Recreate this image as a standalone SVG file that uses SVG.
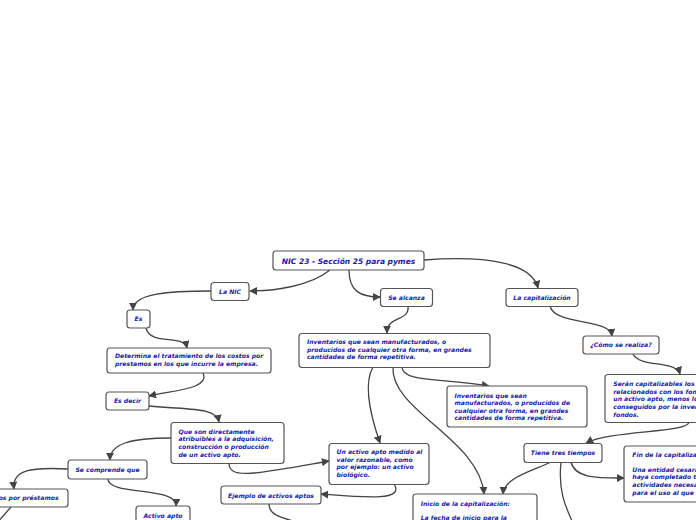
<svg xmlns="http://www.w3.org/2000/svg" width="696" height="520" viewBox="0 0 696 520">
<style>
.n rect{fill:#ffffff;stroke:#555555;stroke-width:1.2}
.n text{font-family:"DejaVu Sans","Verdana",sans-serif;font-weight:bold;font-style:italic;font-size:6.1px;fill:#1a1aa6}
.c{text-anchor:middle}
.root text{font-size:7.5px}
#connectors path{fill:none;stroke:#444444;stroke-width:1.3;marker-end:url(#ah)}
#connectors path.na{marker-end:none}
</style>
<defs>
<marker id="ah" viewBox="0 0 10 10" refX="9" refY="5" markerWidth="8" markerHeight="8" markerUnits="userSpaceOnUse" orient="auto">
<path d="M0,0 L10,5 L0,10 z" fill="#444444"/>
</marker>
</defs>
<rect width="696" height="520" fill="#ffffff"/>
<g id="connectors">
<path d="M330,270 C310,286 275,291 250,291"/>
<path d="M349,270 C349,291 360,297 380,297"/>
<path d="M424,260 C490,255 532,264 538,288"/>
<path d="M211,291 C170,291 133,293 133,310"/>
<path d="M146,328 C150,346 184,334 187,348"/>
<path d="M203,373 C210,389 175,390 149,396"/>
<path d="M149,406 C190,410 216,407 219,422"/>
<path d="M171,438 C130,438 110,444 110,460"/>
<path d="M68,469 C30,467 12,470 14,489"/>
<path d="M108,479 C108,496 177,486 176,506"/>
<path class="na" d="M11,507 L-3,523"/>
<path d="M229,463 C229,480 255,474 329,461"/>
<path d="M394,484 C406,502 360,497 321,494"/>
<path class="na" d="M269,504 C269,515 280,517 296,522"/>
<path d="M408,306 C410,322 387,315 387,333"/>
<path d="M373,367 C362,386 372,420 380,443"/>
<path d="M402,367 C402,382 440,378 489,386"/>
<path d="M393,367 C390,410 480,440 484,494"/>
<path d="M550,306 C555,326 610,318 612,336"/>
<path d="M633,354 C640,368 676,360 680,374"/>
<path d="M689,422 C689,433 610,430 586,443"/>
<path d="M551,462 C530,472 504,478 503,494"/>
<path d="M571,462 C575,479 600,478 624,478"/>
<path class="na" d="M561,462 C558,490 565,506 573,523"/>
</g>
<g id="root" class="n root"><rect x="273" y="251" width="151" height="19" rx="3"/><text class="c" x="348.5" y="263.8">NIC 23 - Sección 25 para pymes</text></g>
<g id="lanic" class="n"><rect x="211" y="282.5" width="38" height="18" rx="3"/><text class="c" x="230" y="293.8">La NIC</text></g>
<g id="es" class="n"><rect x="127" y="310" width="23" height="18" rx="3"/><text class="c" x="138.5" y="321.3">Es</text></g>
<g id="determina" class="n"><rect x="107" y="348" width="164" height="25" rx="3"/><text x="115" y="358"><tspan x="115" y="358">Determina el tratamiento de los costos por</tspan><tspan x="115" y="365.6">prestamos en los que incurre la empresa.</tspan></text></g>
<g id="sealcanza" class="n"><rect x="380.5" y="288.5" width="52" height="18" rx="3"/><text class="c" x="406.5" y="299.8">Se alcanza</text></g>
<g id="lacap" class="n"><rect x="506" y="288.5" width="72" height="18" rx="3"/><text class="c" x="542" y="299.8">La capitalización</text></g>
<g id="como" class="n"><rect x="583" y="336" width="76" height="18" rx="3"/><text class="c" x="621" y="347.3">¿Cómo se realiza?</text></g>
<g id="inv1" class="n"><rect x="299" y="333.5" width="191" height="34" rx="3"/><text><tspan x="307" y="344.2">Inventarios que sean manufacturados, o</tspan><tspan x="307" y="351.8">producidos de cualquier otra forma, en grandes</tspan><tspan x="307" y="359.4">cantidades de forma repetitiva.</tspan></text></g>
<g id="esdecir" class="n"><rect x="106" y="392" width="43" height="18" rx="3"/><text class="c" x="127.5" y="403.3">Es decir</text></g>
<g id="queson" class="n"><rect x="171" y="422.5" width="113" height="41" rx="3"/><text><tspan x="178.5" y="433.8">Que son directamente</tspan><tspan x="178.5" y="441.4">atribuibles a la adquisición,</tspan><tspan x="178.5" y="449">construcción o producción</tspan><tspan x="178.5" y="456.6">de un activo apto.</tspan></text></g>
<g id="secomprende" class="n"><rect x="68" y="460" width="79" height="19" rx="3"/><text class="c" x="107.5" y="471.8">Se comprende que</text></g>
<g id="costos" class="n"><rect x="-27" y="489" width="95" height="18" rx="3"/><text class="c" x="21" y="500.3">Costos por préstamos</text></g>
<g id="activoapto" class="n"><rect x="136" y="506" width="54" height="20" rx="3"/><text class="c" x="163" y="518">Activo apto</text></g>
<g id="ejemplo" class="n"><rect x="221" y="486" width="100" height="18" rx="3"/><text class="c" x="271" y="497.9">Ejemplo de activos aptos</text></g>
<g id="unactivo" class="n"><rect x="329" y="443.5" width="100" height="41" rx="3"/><text><tspan x="336.5" y="454.2">Un activo apto medido al</tspan><tspan x="336.5" y="461.8">valor razonable, como</tspan><tspan x="336.5" y="469.4">por ejemplo: un activo</tspan><tspan x="336.5" y="477">biológico.</tspan></text></g>
<g id="inv2" class="n"><rect x="447" y="386" width="140" height="41" rx="3"/><text><tspan x="454.5" y="397.5">Inventarios que sean</tspan><tspan x="454.5" y="405.1">manufacturados, o producidos de</tspan><tspan x="454.5" y="412.7">cualquier otra forma, en grandes</tspan><tspan x="454.5" y="420.3">cantidades de forma repetitiva.</tspan></text></g>
<g id="seran" class="n"><rect x="605" y="374.5" width="130" height="48" rx="3"/><text><tspan x="613.3" y="386.2">Serán capitalizables los costos por</tspan><tspan x="613.3" y="393.8">relacionados con los fondos tomados</tspan><tspan x="613.3" y="401.4">un activo apto, menos los rendimientos</tspan><tspan x="613.3" y="409">conseguidos por la inversión temporal</tspan><tspan x="613.3" y="416.6">fondos.</tspan></text></g>
<g id="tiene" class="n"><rect x="524" y="443.5" width="78" height="19" rx="3"/><text class="c" x="563" y="455">Tiene tres tiempos</text></g>
<g id="fin" class="n"><rect x="624" y="446" width="130" height="56" rx="3"/><text><tspan x="632.3" y="456.6">Fin de la capitalización:</tspan><tspan x="632.3" y="471.8">Una entidad cesará la capitalización</tspan><tspan x="632.3" y="479.4">haya completado todas las</tspan><tspan x="632.3" y="487">actividades necesarias para preparar</tspan><tspan x="632.3" y="494.6">para el uso al que va destinado.</tspan></text></g>
<g id="inicio" class="n"><rect x="413" y="494" width="124" height="40" rx="3"/><text><tspan x="420.7" y="505.6">Inicio de la capitalización:</tspan><tspan x="420.7" y="519.5">La fecha de inicio para la</tspan></text></g>
</svg>
